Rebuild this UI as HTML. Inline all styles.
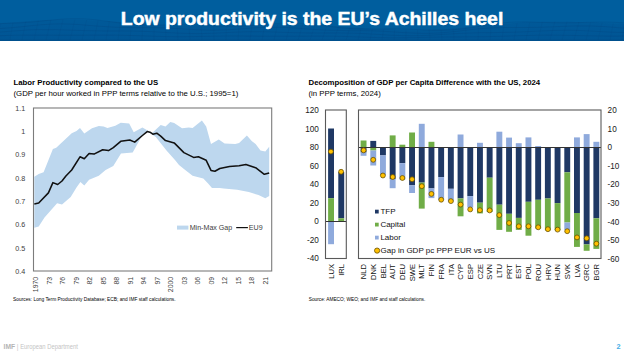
<!DOCTYPE html>
<html><head><meta charset="utf-8"><style>
html,body{margin:0;padding:0;background:#fff;}
body{width:624px;height:351px;position:relative;overflow:hidden;font-family:"Liberation Sans", sans-serif;}
.hdr{position:absolute;left:0;top:0;width:624px;height:41px;background:#005e9e;}
.ttl{position:absolute;left:0;top:0;width:624px;height:41px;}
svg{position:absolute;left:0;top:0;}
</style></head><body>
<div class="hdr"></div>
<svg width="624" height="351" viewBox="0 0 624 351" font-family='"Liberation Sans", sans-serif'>
<defs><linearGradient id="hg" x1="0" y1="0" x2="0" y2="1"><stop offset="0" stop-color="#005e9e"/><stop offset="0.5" stop-color="#005e9e"/><stop offset="1" stop-color="#005a99"/></linearGradient></defs>
<rect x="0" y="0" width="624" height="41" fill="url(#hg)"/>
<polygon points="0.0,23.6 6.0,23.0 12.0,22.4 18.0,21.9 24.0,21.4 30.0,21.0 36.0,20.6 42.0,20.3 48.0,20.0 54.0,19.9 60.0,19.7 66.0,19.7 72.0,19.7 78.0,19.8 84.0,20.0 90.0,20.3 96.0,20.6 102.0,20.9 108.0,21.3 114.0,21.7 120.0,22.1 126.0,22.6 132.0,23.0 138.0,23.5 144.0,23.9 150.0,24.3 156.0,24.7 162.0,25.0 168.0,25.3 174.0,25.5 180.0,25.7 186.0,25.8 192.0,25.9 198.0,25.9 204.0,25.9 210.0,25.8 216.0,25.7 222.0,25.5 228.0,25.4 234.0,25.2 240.0,25.0 246.0,24.8 252.0,24.6 258.0,24.5 264.0,24.3 270.0,24.2 276.0,24.2 282.0,24.1 288.0,24.2 294.0,24.3 300.0,24.4 306.0,24.6 312.0,24.9 318.0,25.2 324.0,25.5 330.0,25.9 336.0,26.3 342.0,26.7 348.0,27.2 354.0,27.6 360.0,28.1 366.0,28.5 372.0,28.9 378.0,29.2 384.0,29.6 390.0,29.8 396.0,30.0 402.0,30.2 408.0,30.3 414.0,30.3 420.0,30.2 426.0,30.0 432.0,29.8 438.0,29.5 444.0,29.2 450.0,28.8 456.0,28.3 462.0,27.8 468.0,27.3 474.0,26.7 480.0,26.1 486.0,25.6 492.0,25.0 498.0,24.5 504.0,23.9 510.0,23.5 516.0,23.0 522.0,22.6 528.0,22.3 534.0,22.1 540.0,21.9 546.0,21.7 552.0,21.7 558.0,21.7 564.0,21.7 570.0,21.8 576.0,22.0 582.0,22.2 588.0,22.4 594.0,22.6 600.0,22.9 606.0,23.2 612.0,23.4 618.0,23.7 624.0,23.9 624.0,41.0 0.0,41.0" fill="#00356e" fill-opacity="0.10"/><polyline points="0.0,23.6 6.0,23.4 12.0,23.2 18.0,23.0 24.0,22.6 30.0,22.2 36.0,21.6 42.0,21.0 48.0,20.4 54.0,19.8 60.0,19.3 66.0,18.9 72.0,18.7 78.0,18.7 84.0,18.9 90.0,19.3 96.0,19.8 102.0,20.6 108.0,21.4 114.0,22.2 120.0,23.0 126.0,23.7 132.0,24.2 138.0,24.7 144.0,24.9 150.0,25.0 156.0,25.0 162.0,24.9 168.0,24.8 174.0,24.7 180.0,24.6 186.0,24.6 192.0,24.7 198.0,25.0 204.0,25.2 210.0,25.6 216.0,25.9 222.0,26.1 228.0,26.3 234.0,26.3 240.0,26.2 246.0,25.9 252.0,25.5 258.0,25.1 264.0,24.5 270.0,24.0 276.0,23.6 282.0,23.2 288.0,23.1 294.0,23.1 300.0,23.3 306.0,23.7 312.0,24.3 318.0,25.0 324.0,25.7 330.0,26.5 336.0,27.2 342.0,27.9 348.0,28.4 354.0,28.7 360.0,28.9 366.0,29.0 372.0,29.0 378.0,29.0 384.0,28.9 390.0,28.9 396.0,28.9 402.0,29.0 408.0,29.2 414.0,29.4 420.0,29.7 426.0,30.0 432.0,30.2 438.0,30.2 444.0,30.2 450.0,29.9 456.0,29.5 462.0,28.9 468.0,28.1 474.0,27.2 480.0,26.2 486.0,25.2 492.0,24.3 498.0,23.4 504.0,22.8 510.0,22.3 516.0,22.0 522.0,21.9 528.0,21.9 534.0,22.1 540.0,22.3 546.0,22.5 552.0,22.7 558.0,22.8 564.0,22.9 570.0,22.8 576.0,22.7 582.0,22.5 588.0,22.3 594.0,22.2 600.0,22.1 606.0,22.1 612.0,22.2 618.0,22.5 624.0,22.9" fill="none" stroke="#00366f" stroke-opacity="0.30" stroke-width="0.6"/><polyline points="0.0,28.5 6.0,28.1 12.0,27.7 18.0,27.1 24.0,26.5 30.0,25.8 36.0,25.2 42.0,24.7 48.0,24.3 54.0,24.0 60.0,23.9 66.0,24.0 72.0,24.2 78.0,24.5 84.0,25.0 90.0,25.5 96.0,26.0 102.0,26.4 108.0,26.8 114.0,27.2 120.0,27.4 126.0,27.5 132.0,27.6 138.0,27.6 144.0,27.6 150.0,27.7 156.0,27.7 162.0,27.9 168.0,28.1 174.0,28.4 180.0,28.7 186.0,29.1 192.0,29.4 198.0,29.8 204.0,30.0 210.0,30.2 216.0,30.2 222.0,30.0 228.0,29.8 234.0,29.4 240.0,29.0 246.0,28.5 252.0,28.1 258.0,27.7 264.0,27.4 270.0,27.3 276.0,27.3 282.0,27.4 288.0,27.6 294.0,28.0 300.0,28.4 306.0,28.9 312.0,29.3 318.0,29.7 324.0,30.0 330.0,30.3 336.0,30.4 342.0,30.5 348.0,30.6 354.0,30.6 360.0,30.6 366.0,30.7 372.0,30.8 378.0,31.0 384.0,31.3 390.0,31.7 396.0,32.1 402.0,32.5 408.0,32.8 414.0,33.1 420.0,33.3 426.0,33.4 432.0,33.3 438.0,33.0 444.0,32.6 450.0,32.0 456.0,31.4 462.0,30.7 468.0,30.0 474.0,29.3 480.0,28.7 486.0,28.3 492.0,27.9 498.0,27.7 504.0,27.5 510.0,27.5 516.0,27.5 522.0,27.5 528.0,27.5 534.0,27.4 540.0,27.3 546.0,27.1 552.0,26.9 558.0,26.6 564.0,26.3 570.0,26.1 576.0,25.9 582.0,25.9 588.0,25.9 594.0,26.1 600.0,26.4 606.0,26.7 612.0,27.2 618.0,27.7 624.0,28.2" fill="none" stroke="#00366f" stroke-opacity="0.30" stroke-width="0.6"/><polyline points="0.0,32.1 6.0,31.6 12.0,31.1 18.0,30.7 24.0,30.3 30.0,29.9 36.0,29.7 42.0,29.6 48.0,29.6 54.0,29.6 60.0,29.8 66.0,30.0 72.0,30.2 78.0,30.4 84.0,30.6 90.0,30.7 96.0,30.8 102.0,30.9 108.0,30.9 114.0,30.9 120.0,30.9 126.0,31.0 132.0,31.0 138.0,31.2 144.0,31.4 150.0,31.6 156.0,31.9 162.0,32.3 168.0,32.6 174.0,32.9 180.0,33.2 186.0,33.4 192.0,33.5 198.0,33.6 204.0,33.5 210.0,33.3 216.0,33.1 222.0,32.8 228.0,32.5 234.0,32.2 240.0,32.0 246.0,31.8 252.0,31.7 258.0,31.7 264.0,31.8 270.0,31.9 276.0,32.1 282.0,32.3 288.0,32.5 294.0,32.7 300.0,32.8 306.0,32.9 312.0,32.9 318.0,33.0 324.0,32.9 330.0,32.9 336.0,32.9 342.0,33.0 348.0,33.1 354.0,33.2 360.0,33.4 366.0,33.7 372.0,34.1 378.0,34.4 384.0,34.8 390.0,35.2 396.0,35.4 402.0,35.6 408.0,35.7 414.0,35.7 420.0,35.6 426.0,35.4 432.0,35.1 438.0,34.7 444.0,34.3 450.0,34.0 456.0,33.6 462.0,33.3 468.0,33.1 474.0,32.9 480.0,32.7 486.0,32.6 492.0,32.6 498.0,32.5 504.0,32.4 510.0,32.3 516.0,32.1 522.0,31.9 528.0,31.6 534.0,31.3 540.0,31.0 546.0,30.8 552.0,30.5 558.0,30.4 564.0,30.3 570.0,30.3 576.0,30.4 582.0,30.6 588.0,30.9 594.0,31.2 600.0,31.6 606.0,31.9 612.0,32.2 618.0,32.4 624.0,32.5" fill="none" stroke="#00366f" stroke-opacity="0.30" stroke-width="0.6"/><polyline points="0.0,35.7 6.0,35.5 12.0,35.3 18.0,35.2 24.0,35.1 30.0,35.1 36.0,35.1 42.0,35.1 48.0,35.1 54.0,35.2 60.0,35.2 66.0,35.2 72.0,35.2 78.0,35.2 84.0,35.2 90.0,35.1 96.0,35.1 102.0,35.1 108.0,35.1 114.0,35.1 120.0,35.2 126.0,35.4 132.0,35.5 138.0,35.7 144.0,35.9 150.0,36.1 156.0,36.3 162.0,36.5 168.0,36.6 174.0,36.7 180.0,36.7 186.0,36.7 192.0,36.6 198.0,36.5 204.0,36.4 210.0,36.3 216.0,36.2 222.0,36.1 228.0,36.0 234.0,36.0 240.0,36.0 246.0,36.1 252.0,36.1 258.0,36.2 264.0,36.2 270.0,36.3 276.0,36.3 282.0,36.3 288.0,36.3 294.0,36.3 300.0,36.2 306.0,36.2 312.0,36.1 318.0,36.1 324.0,36.1 330.0,36.2 336.0,36.3 342.0,36.4 348.0,36.6 354.0,36.8 360.0,37.0 366.0,37.2 372.0,37.4 378.0,37.6 384.0,37.7 390.0,37.8 396.0,37.8 402.0,37.7 408.0,37.7 414.0,37.6 420.0,37.5 426.0,37.3 432.0,37.2 438.0,37.1 444.0,37.0 450.0,36.9 456.0,36.9 462.0,36.9 468.0,36.8 474.0,36.8 480.0,36.7 486.0,36.7 492.0,36.5 498.0,36.4 504.0,36.2 510.0,36.0 516.0,35.8 522.0,35.6 528.0,35.5 534.0,35.3 540.0,35.2 546.0,35.1 552.0,35.1 558.0,35.2 564.0,35.3 570.0,35.4 576.0,35.5 582.0,35.7 588.0,35.8 594.0,35.9 600.0,36.0 606.0,36.1 612.0,36.1 618.0,36.1 624.0,36.0" fill="none" stroke="#00366f" stroke-opacity="0.30" stroke-width="0.6"/><polyline points="0.0,40.0 6.0,40.0 12.0,40.0 18.0,40.0 24.0,40.0 30.0,40.0 36.0,40.0 42.0,40.0 48.0,40.0 54.0,40.0 60.0,40.0 66.0,40.0 72.0,40.0 78.0,40.0 84.0,40.0 90.0,40.0 96.0,40.0 102.0,40.0 108.0,40.0 114.0,40.0 120.0,40.0 126.0,40.0 132.0,40.0 138.0,40.0 144.0,40.0 150.0,40.0 156.0,40.0 162.0,40.0 168.0,40.0 174.0,40.0 180.0,40.0 186.0,40.0 192.0,40.0 198.0,40.0 204.0,40.0 210.0,40.0 216.0,40.0 222.0,40.0 228.0,40.0 234.0,40.0 240.0,40.0 246.0,40.0 252.0,40.0 258.0,40.0 264.0,40.0 270.0,40.0 276.0,40.0 282.0,40.0 288.0,40.0 294.0,40.0 300.0,40.0 306.0,40.0 312.0,40.0 318.0,40.0 324.0,40.0 330.0,40.0 336.0,40.0 342.0,40.0 348.0,40.0 354.0,40.0 360.0,40.0 366.0,40.0 372.0,40.0 378.0,40.0 384.0,40.0 390.0,40.0 396.0,40.0 402.0,40.0 408.0,40.0 414.0,40.0 420.0,40.0 426.0,40.0 432.0,40.0 438.0,40.0 444.0,40.0 450.0,40.0 456.0,40.0 462.0,40.0 468.0,40.0 474.0,40.0 480.0,40.0 486.0,40.0 492.0,40.0 498.0,40.0 504.0,40.0 510.0,40.0 516.0,40.0 522.0,40.0 528.0,40.0 534.0,40.0 540.0,40.0 546.0,40.0 552.0,40.0 558.0,40.0 564.0,40.0 570.0,40.0 576.0,40.0 582.0,40.0 588.0,40.0 594.0,40.0 600.0,40.0 606.0,40.0 612.0,40.0 618.0,40.0 624.0,40.0" fill="none" stroke="#00366f" stroke-opacity="0.30" stroke-width="0.6"/><line x1="0.0" y1="23.6" x2="-2.0" y2="40" stroke="#00366f" stroke-opacity="0.18" stroke-width="0.5"/><line x1="12.9" y1="22.4" x2="10.0" y2="40" stroke="#00366f" stroke-opacity="0.18" stroke-width="0.5"/><line x1="25.7" y1="21.4" x2="22.0" y2="40" stroke="#00366f" stroke-opacity="0.18" stroke-width="0.5"/><line x1="38.3" y1="20.6" x2="34.0" y2="40" stroke="#00366f" stroke-opacity="0.18" stroke-width="0.5"/><line x1="50.8" y1="20.0" x2="46.0" y2="40" stroke="#00366f" stroke-opacity="0.18" stroke-width="0.5"/><line x1="63.0" y1="19.7" x2="58.0" y2="40" stroke="#00366f" stroke-opacity="0.18" stroke-width="0.5"/><line x1="74.9" y1="19.7" x2="70.0" y2="40" stroke="#00366f" stroke-opacity="0.18" stroke-width="0.5"/><line x1="86.6" y1="20.0" x2="82.0" y2="40" stroke="#00366f" stroke-opacity="0.18" stroke-width="0.5"/><line x1="98.0" y1="20.6" x2="94.0" y2="40" stroke="#00366f" stroke-opacity="0.18" stroke-width="0.5"/><line x1="109.3" y1="21.3" x2="106.0" y2="40" stroke="#00366f" stroke-opacity="0.18" stroke-width="0.5"/><line x1="120.4" y1="22.1" x2="118.0" y2="40" stroke="#00366f" stroke-opacity="0.18" stroke-width="0.5"/><line x1="131.5" y1="23.0" x2="130.0" y2="40" stroke="#00366f" stroke-opacity="0.18" stroke-width="0.5"/><line x1="142.7" y1="23.9" x2="142.0" y2="40" stroke="#00366f" stroke-opacity="0.18" stroke-width="0.5"/><line x1="153.9" y1="24.7" x2="154.0" y2="40" stroke="#00366f" stroke-opacity="0.18" stroke-width="0.5"/><line x1="165.4" y1="25.3" x2="166.0" y2="40" stroke="#00366f" stroke-opacity="0.18" stroke-width="0.5"/><line x1="177.1" y1="25.7" x2="178.0" y2="40" stroke="#00366f" stroke-opacity="0.18" stroke-width="0.5"/><line x1="189.0" y1="25.9" x2="190.0" y2="40" stroke="#00366f" stroke-opacity="0.18" stroke-width="0.5"/><line x1="201.2" y1="25.9" x2="202.0" y2="40" stroke="#00366f" stroke-opacity="0.18" stroke-width="0.5"/><line x1="213.7" y1="25.7" x2="214.0" y2="40" stroke="#00366f" stroke-opacity="0.18" stroke-width="0.5"/><line x1="226.3" y1="25.4" x2="226.0" y2="40" stroke="#00366f" stroke-opacity="0.18" stroke-width="0.5"/><line x1="239.2" y1="25.0" x2="238.0" y2="40" stroke="#00366f" stroke-opacity="0.18" stroke-width="0.5"/><line x1="252.1" y1="24.6" x2="250.0" y2="40" stroke="#00366f" stroke-opacity="0.18" stroke-width="0.5"/><line x1="264.9" y1="24.3" x2="262.0" y2="40" stroke="#00366f" stroke-opacity="0.18" stroke-width="0.5"/><line x1="277.7" y1="24.2" x2="274.0" y2="40" stroke="#00366f" stroke-opacity="0.18" stroke-width="0.5"/><line x1="290.4" y1="24.2" x2="286.0" y2="40" stroke="#00366f" stroke-opacity="0.18" stroke-width="0.5"/><line x1="302.8" y1="24.4" x2="298.0" y2="40" stroke="#00366f" stroke-opacity="0.18" stroke-width="0.5"/><line x1="315.0" y1="24.9" x2="310.0" y2="40" stroke="#00366f" stroke-opacity="0.18" stroke-width="0.5"/><line x1="326.9" y1="25.5" x2="322.0" y2="40" stroke="#00366f" stroke-opacity="0.18" stroke-width="0.5"/><line x1="338.6" y1="26.3" x2="334.0" y2="40" stroke="#00366f" stroke-opacity="0.18" stroke-width="0.5"/><line x1="350.0" y1="27.2" x2="346.0" y2="40" stroke="#00366f" stroke-opacity="0.18" stroke-width="0.5"/><line x1="361.2" y1="28.1" x2="358.0" y2="40" stroke="#00366f" stroke-opacity="0.18" stroke-width="0.5"/><line x1="372.4" y1="28.9" x2="370.0" y2="40" stroke="#00366f" stroke-opacity="0.18" stroke-width="0.5"/><line x1="383.5" y1="29.6" x2="382.0" y2="40" stroke="#00366f" stroke-opacity="0.18" stroke-width="0.5"/><line x1="394.6" y1="30.0" x2="394.0" y2="40" stroke="#00366f" stroke-opacity="0.18" stroke-width="0.5"/><line x1="405.9" y1="30.3" x2="406.0" y2="40" stroke="#00366f" stroke-opacity="0.18" stroke-width="0.5"/><line x1="417.4" y1="30.2" x2="418.0" y2="40" stroke="#00366f" stroke-opacity="0.18" stroke-width="0.5"/><line x1="429.1" y1="29.8" x2="430.0" y2="40" stroke="#00366f" stroke-opacity="0.18" stroke-width="0.5"/><line x1="441.0" y1="29.2" x2="442.0" y2="40" stroke="#00366f" stroke-opacity="0.18" stroke-width="0.5"/><line x1="453.2" y1="28.3" x2="454.0" y2="40" stroke="#00366f" stroke-opacity="0.18" stroke-width="0.5"/><line x1="465.7" y1="27.3" x2="466.0" y2="40" stroke="#00366f" stroke-opacity="0.18" stroke-width="0.5"/><line x1="478.4" y1="26.1" x2="478.0" y2="40" stroke="#00366f" stroke-opacity="0.18" stroke-width="0.5"/><line x1="491.2" y1="25.0" x2="490.0" y2="40" stroke="#00366f" stroke-opacity="0.18" stroke-width="0.5"/><line x1="504.1" y1="23.9" x2="502.0" y2="40" stroke="#00366f" stroke-opacity="0.18" stroke-width="0.5"/><line x1="517.0" y1="23.0" x2="514.0" y2="40" stroke="#00366f" stroke-opacity="0.18" stroke-width="0.5"/><line x1="529.8" y1="22.3" x2="526.0" y2="40" stroke="#00366f" stroke-opacity="0.18" stroke-width="0.5"/><line x1="542.4" y1="21.9" x2="538.0" y2="40" stroke="#00366f" stroke-opacity="0.18" stroke-width="0.5"/><line x1="554.8" y1="21.7" x2="550.0" y2="40" stroke="#00366f" stroke-opacity="0.18" stroke-width="0.5"/><line x1="567.0" y1="21.7" x2="562.0" y2="40" stroke="#00366f" stroke-opacity="0.18" stroke-width="0.5"/><line x1="578.9" y1="22.0" x2="574.0" y2="40" stroke="#00366f" stroke-opacity="0.18" stroke-width="0.5"/><line x1="590.5" y1="22.4" x2="586.0" y2="40" stroke="#00366f" stroke-opacity="0.18" stroke-width="0.5"/><line x1="602.0" y1="22.9" x2="598.0" y2="40" stroke="#00366f" stroke-opacity="0.18" stroke-width="0.5"/><line x1="613.2" y1="23.4" x2="610.0" y2="40" stroke="#00366f" stroke-opacity="0.18" stroke-width="0.5"/><line x1="624.3" y1="23.9" x2="622.0" y2="40" stroke="#00366f" stroke-opacity="0.18" stroke-width="0.5"/>
<rect x="0" y="40" width="624" height="1" fill="#00508c" opacity="0.8"/>
<text x="120.8" y="24.8" font-size="18.2" font-weight="bold" fill="#fff" stroke="#fff" stroke-width="0.45" textLength="382.5" lengthAdjust="spacingAndGlyphs">Low productivity is the EU’s Achilles heel</text>
<text x="13.5" y="84.9" font-size="7.8" font-weight="bold" fill="#000">Labor Productivity compared to the US</text>
<text x="13.5" y="96.0" font-size="7.8" fill="#000">(GDP per hour worked in PPP terms relative to the U.S.; 1995=1)</text>
<text x="308.5" y="84.9" font-size="7.8" font-weight="bold" fill="#000">Decomposition of GDP per Capita Difference with the US, 2024</text>
<text x="308.5" y="95.8" font-size="7.8" fill="#000">(in PPP terms, 2024)</text>
<polygon points="34.3,176.8 38.7,173.9 43.6,172.3 48.4,160.3 52.9,149.0 56.2,147.7 71.7,133.2 76.5,130.9 80.0,128.0 84.3,133.6 92.0,128.3 98.8,126.0 103.6,126.4 107.5,128.0 115.3,125.8 120.7,122.7 129.2,123.5 133.7,132.2 142.4,127.4 147.2,130.3 151.9,133.2 160.7,125.0 165.5,126.4 170.3,122.0 174.2,123.1 182.0,128.3 188.8,127.4 192.6,128.0 201.9,120.6 206.2,126.4 211.0,143.9 218.8,139.4 224.6,143.5 235.3,143.9 239.1,142.9 246.9,135.5 251.7,141.0 255.6,143.9 260.5,150.6 265.3,151.6 269.2,146.8 269.2,196.0 265.3,198.3 258.5,195.0 248.8,192.1 237.2,189.8 223.6,188.6 219.8,187.9 212.0,187.9 208.1,183.4 203.3,178.6 192.6,175.7 184.9,169.8 179.0,165.0 175.2,160.3 166.5,150.6 155.8,137.0 147.2,131.5 142.4,135.1 132.7,152.6 121.0,153.5 113.3,166.1 105.6,170.0 98.8,175.8 89.1,179.7 84.3,185.5 80.4,182.0 76.5,187.4 70.7,197.1 62.0,204.5 57.1,203.3 44.5,217.5 38.7,226.6 34.3,227.8" fill="#bdd7ee"/><rect x="33.5" y="108" width="238.2" height="163" fill="none" stroke="#7c7c7c" stroke-width="1.1"/><polyline points="34.3,203.9 38.7,203.0 48.4,192.9 52.9,182.6 57.7,184.5 62.0,181.0 65.9,176.0 71.7,170.0 80.0,156.8 84.3,158.8 89.1,153.5 94.0,154.1 102.7,149.7 108.5,150.6 113.3,147.7 120.7,141.3 129.8,140.0 134.7,142.1 142.4,135.5 147.2,131.6 150.0,132.2 152.9,134.2 156.8,133.2 160.7,136.1 165.5,140.6 174.2,142.9 183.9,152.6 193.6,157.4 198.4,156.8 206.2,160.3 211.0,170.4 214.9,171.2 219.8,168.5 229.5,166.5 239.1,165.8 245.9,164.6 255.6,167.7 264.3,174.3 269.2,172.9" fill="none" stroke="#111" stroke-width="1.55" stroke-linejoin="round"/><text x="25.2" y="110.8" text-anchor="end" font-size="7.2" fill="#404040">1.1</text><text x="25.2" y="134.1" text-anchor="end" font-size="7.2" fill="#404040">1</text><text x="25.2" y="157.4" text-anchor="end" font-size="7.2" fill="#404040">0.9</text><text x="25.2" y="180.7" text-anchor="end" font-size="7.2" fill="#404040">0.8</text><text x="25.2" y="204.0" text-anchor="end" font-size="7.2" fill="#404040">0.7</text><text x="25.2" y="227.2" text-anchor="end" font-size="7.2" fill="#404040">0.6</text><text x="25.2" y="250.5" text-anchor="end" font-size="7.2" fill="#404040">0.5</text><text x="25.2" y="273.8" text-anchor="end" font-size="7.2" fill="#404040">0.4</text><text transform="translate(38.4,276.8) rotate(-90)" text-anchor="end" font-size="6.9" fill="#404040">1970</text><text transform="translate(51.9,276.8) rotate(-90)" text-anchor="end" font-size="6.9" fill="#404040">73</text><text transform="translate(65.4,276.8) rotate(-90)" text-anchor="end" font-size="6.9" fill="#404040">76</text><text transform="translate(78.9,276.8) rotate(-90)" text-anchor="end" font-size="6.9" fill="#404040">79</text><text transform="translate(92.4,276.8) rotate(-90)" text-anchor="end" font-size="6.9" fill="#404040">82</text><text transform="translate(105.9,276.8) rotate(-90)" text-anchor="end" font-size="6.9" fill="#404040">85</text><text transform="translate(119.4,276.8) rotate(-90)" text-anchor="end" font-size="6.9" fill="#404040">88</text><text transform="translate(132.9,276.8) rotate(-90)" text-anchor="end" font-size="6.9" fill="#404040">91</text><text transform="translate(146.4,276.8) rotate(-90)" text-anchor="end" font-size="6.9" fill="#404040">94</text><text transform="translate(159.9,276.8) rotate(-90)" text-anchor="end" font-size="6.9" fill="#404040">97</text><text transform="translate(173.4,276.8) rotate(-90)" text-anchor="end" font-size="6.9" fill="#404040">2000</text><text transform="translate(186.9,276.8) rotate(-90)" text-anchor="end" font-size="6.9" fill="#404040">03</text><text transform="translate(200.4,276.8) rotate(-90)" text-anchor="end" font-size="6.9" fill="#404040">06</text><text transform="translate(213.9,276.8) rotate(-90)" text-anchor="end" font-size="6.9" fill="#404040">09</text><text transform="translate(227.4,276.8) rotate(-90)" text-anchor="end" font-size="6.9" fill="#404040">12</text><text transform="translate(240.9,276.8) rotate(-90)" text-anchor="end" font-size="6.9" fill="#404040">15</text><text transform="translate(254.4,276.8) rotate(-90)" text-anchor="end" font-size="6.9" fill="#404040">18</text><text transform="translate(267.9,276.8) rotate(-90)" text-anchor="end" font-size="6.9" fill="#404040">21</text><rect x="177" y="225.6" width="11.4" height="4" fill="#bdd7ee"/><text x="189.7" y="229.8" font-size="7.1" fill="#404040">Min-Max Gap</text><line x1="236.2" y1="227.6" x2="247.9" y2="227.6" stroke="#111" stroke-width="1.2"/><text x="248.8" y="229.8" font-size="7.1" fill="#404040">EU9</text><rect x="360.6" y="140.5" width="5.9" height="6.7" fill="#70ad47"/><rect x="360.6" y="147.2" width="5.9" height="5.3" fill="#1f3864"/><rect x="360.6" y="152.5" width="5.9" height="3.3" fill="#8faadc"/><rect x="370.3" y="140.9" width="5.9" height="6.3" fill="#1f3864"/><rect x="370.3" y="147.2" width="5.9" height="3.3" fill="#70ad47"/><rect x="370.3" y="150.5" width="5.9" height="15.0" fill="#8faadc"/><rect x="380.0" y="147.2" width="5.9" height="8.2" fill="#1f3864"/><rect x="380.0" y="155.4" width="5.9" height="19.8" fill="#8faadc"/><rect x="389.7" y="135.4" width="5.9" height="11.8" fill="#70ad47"/><rect x="389.7" y="147.2" width="5.9" height="31.8" fill="#1f3864"/><rect x="389.7" y="179.0" width="5.9" height="9.2" fill="#8faadc"/><rect x="399.4" y="144.7" width="5.9" height="2.5" fill="#70ad47"/><rect x="399.4" y="147.2" width="5.9" height="16.0" fill="#1f3864"/><rect x="399.4" y="163.2" width="5.9" height="16.3" fill="#8faadc"/><rect x="409.1" y="132.5" width="5.9" height="14.7" fill="#70ad47"/><rect x="409.1" y="147.2" width="5.9" height="38.1" fill="#1f3864"/><rect x="409.1" y="185.3" width="5.9" height="7.7" fill="#8faadc"/><rect x="418.8" y="123.8" width="5.9" height="23.4" fill="#8faadc"/><rect x="418.8" y="147.2" width="5.9" height="35.4" fill="#1f3864"/><rect x="418.8" y="182.6" width="5.9" height="26.0" fill="#70ad47"/><rect x="428.5" y="141.8" width="5.9" height="5.4" fill="#70ad47"/><rect x="428.5" y="147.2" width="5.9" height="41.2" fill="#1f3864"/><rect x="428.5" y="188.4" width="5.9" height="9.7" fill="#8faadc"/><rect x="438.2" y="147.2" width="5.9" height="29.9" fill="#1f3864"/><rect x="438.2" y="177.1" width="5.9" height="22.9" fill="#8faadc"/><rect x="447.9" y="147.2" width="5.9" height="41.6" fill="#1f3864"/><rect x="447.9" y="188.8" width="5.9" height="12.6" fill="#8faadc"/><rect x="457.6" y="134.5" width="5.9" height="12.7" fill="#8faadc"/><rect x="457.6" y="147.2" width="5.9" height="51.2" fill="#1f3864"/><rect x="457.6" y="198.4" width="5.9" height="17.9" fill="#70ad47"/><rect x="467.3" y="147.2" width="5.9" height="48.9" fill="#1f3864"/><rect x="467.3" y="196.1" width="5.9" height="11.4" fill="#8faadc"/><rect x="477.0" y="142.8" width="5.9" height="4.4" fill="#8faadc"/><rect x="477.0" y="147.2" width="5.9" height="55.5" fill="#1f3864"/><rect x="477.0" y="202.7" width="5.9" height="10.7" fill="#70ad47"/><rect x="486.7" y="147.2" width="5.9" height="30.5" fill="#1f3864"/><rect x="486.7" y="177.7" width="5.9" height="34.3" fill="#70ad47"/><rect x="496.4" y="131.7" width="5.9" height="15.5" fill="#8faadc"/><rect x="496.4" y="147.2" width="5.9" height="57.5" fill="#1f3864"/><rect x="496.4" y="204.7" width="5.9" height="25.2" fill="#70ad47"/><rect x="506.1" y="137.6" width="5.9" height="9.6" fill="#8faadc"/><rect x="506.1" y="147.2" width="5.9" height="66.6" fill="#1f3864"/><rect x="506.1" y="213.8" width="5.9" height="18.0" fill="#70ad47"/><rect x="515.8" y="143.2" width="5.9" height="4.0" fill="#8faadc"/><rect x="515.8" y="147.2" width="5.9" height="70.7" fill="#1f3864"/><rect x="515.8" y="217.9" width="5.9" height="12.0" fill="#70ad47"/><rect x="525.5" y="137.4" width="5.9" height="9.8" fill="#8faadc"/><rect x="525.5" y="147.2" width="5.9" height="54.6" fill="#1f3864"/><rect x="525.5" y="201.8" width="5.9" height="33.9" fill="#70ad47"/><rect x="535.2" y="146.0" width="5.9" height="1.2" fill="#8faadc"/><rect x="535.2" y="147.2" width="5.9" height="52.6" fill="#1f3864"/><rect x="535.2" y="199.8" width="5.9" height="28.7" fill="#70ad47"/><rect x="544.9" y="147.2" width="5.9" height="51.3" fill="#1f3864"/><rect x="544.9" y="198.5" width="5.9" height="31.8" fill="#70ad47"/><rect x="554.6" y="147.2" width="5.9" height="55.9" fill="#1f3864"/><rect x="554.6" y="203.1" width="5.9" height="27.2" fill="#70ad47"/><rect x="564.3" y="147.2" width="5.9" height="25.1" fill="#1f3864"/><rect x="564.3" y="172.3" width="5.9" height="50.2" fill="#70ad47"/><rect x="564.3" y="222.5" width="5.9" height="7.4" fill="#8faadc"/><rect x="574.0" y="137.4" width="5.9" height="9.8" fill="#8faadc"/><rect x="574.0" y="147.2" width="5.9" height="65.8" fill="#1f3864"/><rect x="574.0" y="213.0" width="5.9" height="33.9" fill="#70ad47"/><rect x="583.7" y="134.1" width="5.9" height="13.1" fill="#8faadc"/><rect x="583.7" y="147.2" width="5.9" height="97.2" fill="#1f3864"/><rect x="583.7" y="244.4" width="5.9" height="6.4" fill="#70ad47"/><rect x="593.4" y="141.8" width="5.9" height="5.4" fill="#8faadc"/><rect x="593.4" y="147.2" width="5.9" height="71.1" fill="#1f3864"/><rect x="593.4" y="218.3" width="5.9" height="30.6" fill="#70ad47"/><rect x="328.1" y="128.5" width="5.9" height="69.7" fill="#1f3864"/><rect x="328.1" y="198.2" width="5.9" height="23.3" fill="#70ad47"/><rect x="328.1" y="221.5" width="5.9" height="22.7" fill="#8faadc"/><rect x="338.3" y="172.0" width="5.9" height="46.3" fill="#1f3864"/><rect x="338.3" y="218.3" width="5.9" height="3.2" fill="#70ad47"/><line x1="358.5" y1="147.5" x2="601" y2="147.5" stroke="#333" stroke-width="1"/><line x1="325.5" y1="221.5" x2="346.3" y2="221.5" stroke="#333" stroke-width="1"/><rect x="325.5" y="110" width="20.8" height="148.5" fill="none" stroke="#595959" stroke-width="1.1"/><rect x="358.5" y="110" width="242.5" height="148.5" fill="none" stroke="#595959" stroke-width="1.1"/><circle cx="363.6" cy="150.3" r="2.45" fill="#ffc000" stroke="#6a5000" stroke-width="0.8"/><circle cx="373.2" cy="159.8" r="2.45" fill="#ffc000" stroke="#6a5000" stroke-width="0.8"/><circle cx="382.9" cy="175.5" r="2.45" fill="#ffc000" stroke="#6a5000" stroke-width="0.8"/><circle cx="392.7" cy="177.0" r="2.45" fill="#ffc000" stroke="#6a5000" stroke-width="0.8"/><circle cx="402.4" cy="178.0" r="2.45" fill="#ffc000" stroke="#6a5000" stroke-width="0.8"/><circle cx="412.1" cy="179.3" r="2.45" fill="#ffc000" stroke="#6a5000" stroke-width="0.8"/><circle cx="421.8" cy="186.2" r="2.45" fill="#ffc000" stroke="#6a5000" stroke-width="0.8"/><circle cx="431.4" cy="193.9" r="2.45" fill="#ffc000" stroke="#6a5000" stroke-width="0.8"/><circle cx="441.2" cy="199.7" r="2.45" fill="#ffc000" stroke="#6a5000" stroke-width="0.8"/><circle cx="450.9" cy="201.1" r="2.45" fill="#ffc000" stroke="#6a5000" stroke-width="0.8"/><circle cx="460.6" cy="204.6" r="2.45" fill="#ffc000" stroke="#6a5000" stroke-width="0.8"/><circle cx="470.2" cy="209.4" r="2.45" fill="#ffc000" stroke="#6a5000" stroke-width="0.8"/><circle cx="479.9" cy="210.2" r="2.45" fill="#ffc000" stroke="#6a5000" stroke-width="0.8"/><circle cx="489.7" cy="210.4" r="2.45" fill="#ffc000" stroke="#6a5000" stroke-width="0.8"/><circle cx="499.3" cy="215.1" r="2.45" fill="#ffc000" stroke="#6a5000" stroke-width="0.8"/><circle cx="509.1" cy="223.0" r="2.45" fill="#ffc000" stroke="#6a5000" stroke-width="0.8"/><circle cx="518.8" cy="226.3" r="2.45" fill="#ffc000" stroke="#6a5000" stroke-width="0.8"/><circle cx="528.5" cy="226.3" r="2.45" fill="#ffc000" stroke="#6a5000" stroke-width="0.8"/><circle cx="538.2" cy="227.3" r="2.45" fill="#ffc000" stroke="#6a5000" stroke-width="0.8"/><circle cx="547.9" cy="229.2" r="2.45" fill="#ffc000" stroke="#6a5000" stroke-width="0.8"/><circle cx="557.6" cy="229.6" r="2.45" fill="#ffc000" stroke="#6a5000" stroke-width="0.8"/><circle cx="567.2" cy="231.2" r="2.45" fill="#ffc000" stroke="#6a5000" stroke-width="0.8"/><circle cx="577.0" cy="237.4" r="2.45" fill="#ffc000" stroke="#6a5000" stroke-width="0.8"/><circle cx="586.7" cy="238.3" r="2.45" fill="#ffc000" stroke="#6a5000" stroke-width="0.8"/><circle cx="596.4" cy="243.7" r="2.45" fill="#ffc000" stroke="#6a5000" stroke-width="0.8"/><circle cx="330.9" cy="151.6" r="2.45" fill="#ffc000" stroke="#6a5000" stroke-width="0.8"/><circle cx="341.1" cy="171.8" r="2.45" fill="#ffc000" stroke="#6a5000" stroke-width="0.8"/><text x="318.9" y="113.1" text-anchor="end" font-size="8.2" fill="#1a1a1a">120</text><text x="318.9" y="131.6" text-anchor="end" font-size="8.2" fill="#1a1a1a">100</text><text x="318.9" y="150.1" text-anchor="end" font-size="8.2" fill="#1a1a1a">80</text><text x="318.9" y="168.6" text-anchor="end" font-size="8.2" fill="#1a1a1a">60</text><text x="318.9" y="187.2" text-anchor="end" font-size="8.2" fill="#1a1a1a">40</text><text x="318.9" y="205.7" text-anchor="end" font-size="8.2" fill="#1a1a1a">20</text><text x="318.9" y="224.2" text-anchor="end" font-size="8.2" fill="#1a1a1a">0</text><text x="318.9" y="242.7" text-anchor="end" font-size="8.2" fill="#1a1a1a">-20</text><text x="318.9" y="261.2" text-anchor="end" font-size="8.2" fill="#1a1a1a">-40</text><text x="607.6" y="113.1" font-size="8.2" fill="#1a1a1a">20</text><text x="607.6" y="131.6" font-size="8.2" fill="#1a1a1a">10</text><text x="607.6" y="150.2" font-size="8.2" fill="#1a1a1a">0</text><text x="607.6" y="168.8" font-size="8.2" fill="#1a1a1a">-10</text><text x="607.6" y="187.3" font-size="8.2" fill="#1a1a1a">-20</text><text x="607.6" y="205.9" font-size="8.2" fill="#1a1a1a">-30</text><text x="607.6" y="224.5" font-size="8.2" fill="#1a1a1a">-40</text><text x="607.6" y="243.0" font-size="8.2" fill="#1a1a1a">-50</text><text x="607.6" y="261.6" font-size="8.2" fill="#1a1a1a">-60</text><text transform="translate(333.5,264) rotate(-90)" text-anchor="end" font-size="7.6" fill="#111">LUX</text><text transform="translate(343.7,264) rotate(-90)" text-anchor="end" font-size="7.6" fill="#111">IRL</text><text transform="translate(366.2,264) rotate(-90)" text-anchor="end" font-size="7.6" fill="#111">NLD</text><text transform="translate(375.9,264) rotate(-90)" text-anchor="end" font-size="7.6" fill="#111">DNK</text><text transform="translate(385.6,264) rotate(-90)" text-anchor="end" font-size="7.6" fill="#111">BEL</text><text transform="translate(395.3,264) rotate(-90)" text-anchor="end" font-size="7.6" fill="#111">AUT</text><text transform="translate(405.0,264) rotate(-90)" text-anchor="end" font-size="7.6" fill="#111">DEU</text><text transform="translate(414.7,264) rotate(-90)" text-anchor="end" font-size="7.6" fill="#111">SWE</text><text transform="translate(424.4,264) rotate(-90)" text-anchor="end" font-size="7.6" fill="#111">MLT</text><text transform="translate(434.1,264) rotate(-90)" text-anchor="end" font-size="7.6" fill="#111">FIN</text><text transform="translate(443.8,264) rotate(-90)" text-anchor="end" font-size="7.6" fill="#111">FRA</text><text transform="translate(453.5,264) rotate(-90)" text-anchor="end" font-size="7.6" fill="#111">ITA</text><text transform="translate(463.2,264) rotate(-90)" text-anchor="end" font-size="7.6" fill="#111">CYP</text><text transform="translate(472.9,264) rotate(-90)" text-anchor="end" font-size="7.6" fill="#111">ESP</text><text transform="translate(482.6,264) rotate(-90)" text-anchor="end" font-size="7.6" fill="#111">CZE</text><text transform="translate(492.3,264) rotate(-90)" text-anchor="end" font-size="7.6" fill="#111">SVN</text><text transform="translate(501.9,264) rotate(-90)" text-anchor="end" font-size="7.6" fill="#111">LTU</text><text transform="translate(511.7,264) rotate(-90)" text-anchor="end" font-size="7.6" fill="#111">PRT</text><text transform="translate(521.4,264) rotate(-90)" text-anchor="end" font-size="7.6" fill="#111">EST</text><text transform="translate(531.1,264) rotate(-90)" text-anchor="end" font-size="7.6" fill="#111">POL</text><text transform="translate(540.8,264) rotate(-90)" text-anchor="end" font-size="7.6" fill="#111">ROU</text><text transform="translate(550.5,264) rotate(-90)" text-anchor="end" font-size="7.6" fill="#111">HRV</text><text transform="translate(560.2,264) rotate(-90)" text-anchor="end" font-size="7.6" fill="#111">HUN</text><text transform="translate(569.9,264) rotate(-90)" text-anchor="end" font-size="7.6" fill="#111">SVK</text><text transform="translate(579.6,264) rotate(-90)" text-anchor="end" font-size="7.6" fill="#111">LVA</text><text transform="translate(589.3,264) rotate(-90)" text-anchor="end" font-size="7.6" fill="#111">GRC</text><text transform="translate(599.0,264) rotate(-90)" text-anchor="end" font-size="7.6" fill="#111">BGR</text><rect x="375" y="209.7" width="3.7" height="3.8" fill="#1f3864"/><text x="380.4" y="214.4" font-size="8" fill="#111">TFP</text><rect x="375" y="222.7" width="3.7" height="3.8" fill="#70ad47"/><text x="380.4" y="227.4" font-size="8" fill="#111">Capital</text><rect x="375" y="235.7" width="3.7" height="3.8" fill="#8faadc"/><text x="380.4" y="240.4" font-size="8" fill="#111">Labor</text><circle cx="377.1" cy="250.6" r="2.6" fill="#ffc000" stroke="#6a5000" stroke-width="0.8"/><text x="380.6" y="253.4" font-size="8" fill="#111">Gap in GDP pc PPP EUR vs US</text>
<text x="13.1" y="301.3" font-size="5.9" fill="#000" textLength="162.5" lengthAdjust="spacingAndGlyphs">Sources: Long Term Productivity Database; ECB; and IMF staff calculations.</text>
<text x="308.7" y="301.3" font-size="5.9" fill="#000" textLength="116.6" lengthAdjust="spacingAndGlyphs">Source: AMECO; WEO; and IMF and staff calculations.</text>
<text x="3.6" y="349.2" font-size="6.5" font-weight="bold" fill="#b4b4b4" textLength="11.5" lengthAdjust="spacingAndGlyphs">IMF</text><text x="16.8" y="349.2" font-size="6.5" fill="#c8c8c8">|</text><text x="20.2" y="349.2" font-size="6.5" fill="#c4c4c4" textLength="57.7" lengthAdjust="spacingAndGlyphs">European Department</text>
<text x="616.6" y="348.9" font-size="7.3" font-weight="bold" fill="#45aee6">2</text>
</svg>
</body></html>
